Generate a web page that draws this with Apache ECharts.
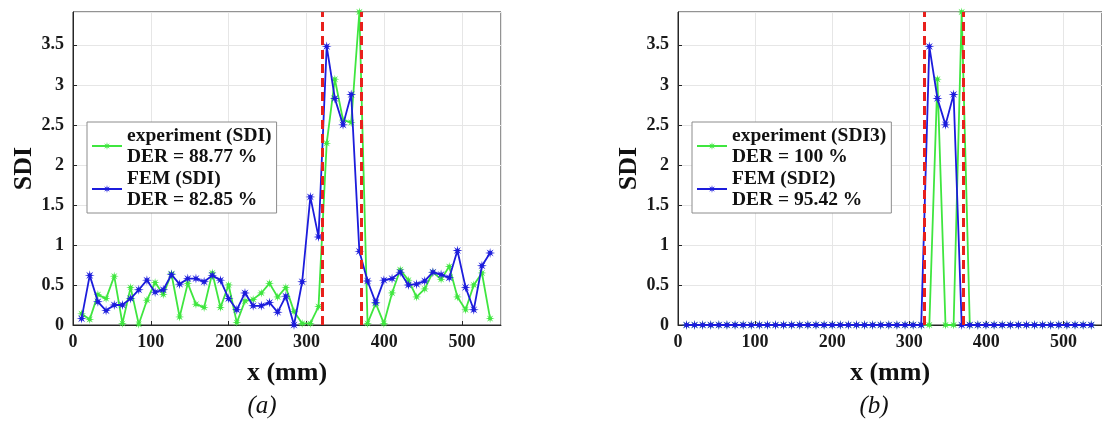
<!DOCTYPE html>
<html>
<head>
<meta charset="utf-8">
<script src="https://cdn.jsdelivr.net/npm/echarts@6/dist/echarts.min.js"></script>
<style>
html,body{margin:0;padding:0;background:#fff;}
#c{width:1102px;height:423px;}
</style>
</head>
<body>
<div id="c"></div>
<script>
// sensor positions (mm)
const xs = [11, 21.5, 32, 42.5, 53, 63.5, 74, 84.5, 95, 105.5, 116, 126.5, 137, 147.5, 158, 168.5, 179, 189.5, 200, 210.5,
  221, 231.5, 242, 252.5, 263, 273.5, 284, 294.5, 305, 315.5, 326, 336.5, 347, 357.5, 368, 378.5, 389, 399.5, 410, 420.5,
  431, 441.5, 452, 462.5, 473, 483.5, 494, 504.5, 515, 525.5, 536];

// (a) experiment SDI
const expA = [0.14, 0.07, 0.38, 0.33, 0.61, 0.02, 0.47, 0.01, 0.31, 0.53, 0.38, 0.64, 0.10, 0.52, 0.26, 0.22, 0.65, 0.22, 0.50, 0.03,
  0.30, 0.32, 0.40, 0.52, 0.35, 0.47, 0.17, 0.02, 0.02, 0.23, 2.27, 3.07, 2.56, 2.53, 3.91, 0.02, 0.27, 0.02, 0.40, 0.69,
  0.56, 0.35, 0.45, 0.66, 0.57, 0.73, 0.35, 0.19, 0.50, 0.65, 0.08];
// (a) FEM SDI
const femA = [0.08, 0.62, 0.29, 0.18, 0.25, 0.25, 0.33, 0.44, 0.56, 0.41, 0.44, 0.63, 0.51, 0.58, 0.58, 0.54, 0.62, 0.56, 0.33, 0.19,
  0.40, 0.24, 0.24, 0.28, 0.16, 0.36, 0.00, 0.54, 1.60, 1.10, 3.48, 2.83, 2.50, 2.88, 0.92, 0.55, 0.28, 0.56, 0.58, 0.66,
  0.50, 0.51, 0.55, 0.66, 0.63, 0.59, 0.93, 0.47, 0.19, 0.74, 0.90];
// (b) experiment SDI3
const expB = [0, 0, 0, 0, 0, 0, 0, 0, 0, 0, 0, 0, 0, 0, 0, 0, 0, 0, 0, 0,
  0, 0, 0, 0, 0, 0, 0, 0, 0, 0, 0, 3.07, 0, 0, 3.91, 0, 0, 0, 0, 0,
  0, 0, 0, 0, 0, 0, 0, 0, 0, 0, 0];
// (b) FEM SDI2
const femB = [0, 0, 0, 0, 0, 0, 0, 0, 0, 0, 0, 0, 0, 0, 0, 0, 0, 0, 0, 0,
  0, 0, 0, 0, 0, 0, 0, 0, 0, 0, 3.48, 2.83, 2.50, 2.88, 0, 0, 0, 0, 0, 0,
  0, 0, 0, 0, 0, 0, 0, 0, 0, 0, 0];

const defectX = [320, 370];
const namesA = ['experiment (SDI)\nDER = 88.77 %', 'FEM (SDI)\nDER = 82.85 %'];
const namesB = ['experiment (SDI3)\nDER = 100 %', 'FEM (SDI2)\nDER = 95.42 %'];
const panelLabels = ['(a)', '(b)'];
const xName = 'x (mm)';
const yName = 'SDI';

// asterisk-like marker path (style only)
function starPath(){
  const n = 8, R = 10, r = 3.6;
  let d = '';
  for (let i = 0; i < n * 2; i++) {
    const a = Math.PI * i / n - Math.PI / 2;
    const rad = (i % 2 === 0) ? R : r;
    d += (i === 0 ? 'M' : 'L') + (R + rad * Math.cos(a)).toFixed(2) + ' ' + (R + rad * Math.sin(a)).toFixed(2) + ' ';
  }
  return 'path://' + d + 'Z';
}
const STAR = starPath();
const GREEN = '#3fe63f';
const BLUE = '#1c1cdc';
const SERIF = '"Liberation Serif", "Times New Roman", serif';
const pair = v => xs.map((x, i) => [x, v[i]]);

const grids = [
  {left: 73, top: 12, width: 428, height: 313},
  {left: 678, top: 12, width: 429, height: 313}
];

function xAxisFor(i){
  return {
    gridIndex: i, type: 'value', min: 0, max: 550, interval: 100,
    name: xName, nameLocation: 'middle', nameGap: 35,
    nameTextStyle: {fontFamily: SERIF, fontWeight: 'bold', fontSize: 26, color: '#111'},
    axisLine: {onZero: false, lineStyle: {color: '#262626', width: 1}},
    axisTick: {show: true, inside: true, length: 4, lineStyle: {color: '#262626'}},
    axisLabel: {fontFamily: SERIF, fontWeight: 'bold', fontSize: 18, color: '#1a1a1a', margin: 8, showMaxLabel: false},
    splitLine: {show: true, lineStyle: {color: '#e6e6e6', width: 1}}
  };
}
function yAxisFor(i){
  return {
    gridIndex: i, type: 'value', min: 0, max: 3.91, interval: 0.5,
    name: yName, nameLocation: 'middle', nameGap: 31,
    nameTextStyle: {fontFamily: SERIF, fontWeight: 'bold', fontSize: 26, color: '#111'},
    axisLine: {show: true, lineStyle: {color: '#262626', width: 1}},
    axisTick: {show: true, inside: true, length: 4, lineStyle: {color: '#262626'}},
    axisLabel: {fontFamily: SERIF, fontWeight: 'bold', fontSize: 18, color: '#1a1a1a', margin: 9, showMaxLabel: false},
    splitLine: {show: true, lineStyle: {color: '#e6e6e6', width: 1}}
  };
}

function lineSeries(name, data, color, gi, size, z){
  return {
    name: name, type: 'line', xAxisIndex: gi, yAxisIndex: gi,
    data: pair(data), symbol: STAR, symbolSize: size, showSymbol: true,
    clip: false, animation: false, z: z,
    lineStyle: {color: color, width: 1.8},
    itemStyle: {color: color}
  };
}
function defectSeries(gi){
  return {
    type: 'line', xAxisIndex: gi, yAxisIndex: gi, data: [], z: 10, animation: false,
    markLine: {
      silent: true, symbol: ['none', 'none'], label: {show: false},
      lineStyle: {color: '#e8201c', width: 3, type: [9, 5]},
      data: defectX.map(x => ({xAxis: x}))
    }
  };
}

function legendFor(names, left){
  return {
    data: names, orient: 'vertical', left: left, top: 122,
    backgroundColor: '#fff', borderColor: '#8c8c8c', borderWidth: 1,
    padding: [3, 5, 3, 4], itemGap: 1, itemWidth: 30, itemHeight: 10,
    textStyle: {fontFamily: SERIF, fontWeight: 'bold', fontSize: 19.5, color: '#111', lineHeight: 21}
  };
}

const chart = echarts.init(document.getElementById('c'), null, {renderer: 'canvas'});
chart.setOption({
  animation: false,
  grid: grids.map(g => Object.assign({show: true, borderColor: '#262626', borderWidth: 1, backgroundColor: 'transparent'}, g)),
  xAxis: [xAxisFor(0), xAxisFor(1)],
  yAxis: [yAxisFor(0), yAxisFor(1)],
  legend: [legendFor(namesA, 87), legendFor(namesB, 692)],
  series: [
    lineSeries(namesA[0], expA, GREEN, 0, 9, 3),
    lineSeries(namesA[1], femA, BLUE, 0, 10, 4),
    defectSeries(0),
    lineSeries(namesB[0], expB, GREEN, 1, 9, 3),
    lineSeries(namesB[1], femB, BLUE, 1, 10, 4),
    defectSeries(1)
  ],
  graphic: [
    {type: 'text', x: 262, y: 406, style: {text: panelLabels[0], font: 'italic 25px ' + SERIF, fill: '#111', textAlign: 'center', textVerticalAlign: 'middle'}},
    {type: 'text', x: 874, y: 406, style: {text: panelLabels[1], font: 'italic 25px ' + SERIF, fill: '#111', textAlign: 'center', textVerticalAlign: 'middle'}}
  ]
});
</script>
</body>
</html>
